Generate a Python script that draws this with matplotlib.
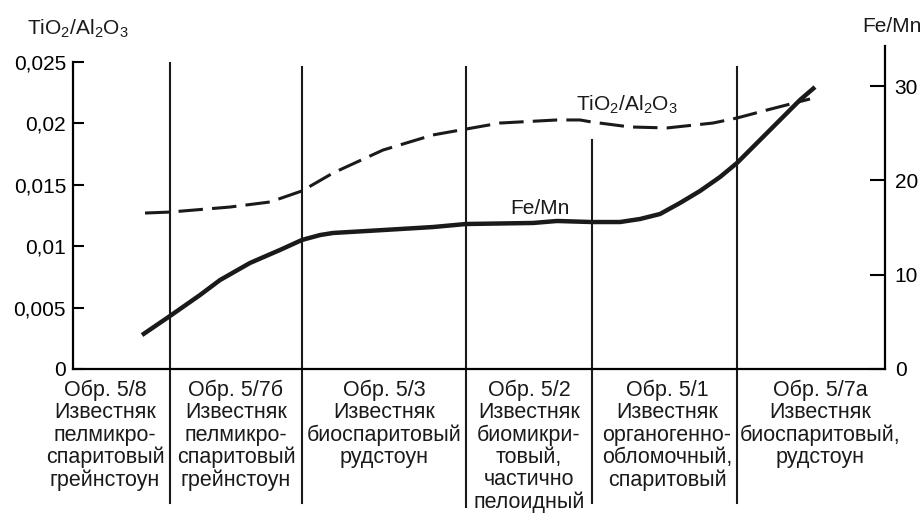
import numpy as np
import matplotlib
matplotlib.use('Agg')
import matplotlib.pyplot as plt
import matplotlib.transforms as mtransforms

plt.rcParams['font.family'] = ['Liberation Sans', 'DejaVu Sans']
plt.rcParams['mathtext.fontset'] = 'custom'
plt.rcParams['mathtext.rm'] = 'Liberation Sans'
plt.rcParams['mathtext.it'] = 'Liberation Sans'

# position along the section (arbitrary units), column boundaries
bounds = [97, 229, 393, 519, 664]
bound_tops = [0.947, 0.935, 0.935, 0.709, 0.935]     # axes fraction
bound_bottoms = [-0.415, -0.415, -0.427, -0.415, -0.415]

label_x = [32, 163, 311, 456, 594, 747]
labels = [
    'Обр. 5/8\nИзвестняк\nпелмикро-\nспаритовый\nгрейнстоун',
    'Обр. 5/7б\nИзвестняк\nпелмикро-\nспаритовый\nгрейнстоун',
    'Обр. 5/3\nИзвестняк\nбиоспаритовый\nрудстоун',
    'Обр. 5/2\nИзвестняк\nбиомикри-\nтовый,\nчастично\nпелоидный',
    'Обр. 5/1\nИзвестняк\nорганогенно-\nобломочный,\nспаритовый',
    'Обр. 5/7а\nИзвестняк\nбиоспаритовый,\nрудстоун',
]

# TiO2/Al2O3 curve (left axis)
ti_x = [72, 97, 157, 197, 229, 260, 310, 360, 393, 427, 484, 507, 519,
        557, 594, 640, 664, 694, 737]
ti_y = [0.01270, 0.01278, 0.01319, 0.01360, 0.01450, 0.01596, 0.01783,
        0.01906, 0.01954, 0.02003, 0.02028, 0.02028, 0.02011, 0.01971,
        0.01963, 0.02003, 0.02044, 0.02109, 0.02199]

# Fe/Mn curve (right axis)
fe_x = [69, 97, 127, 147, 177, 207, 229, 247, 260, 310, 360, 393, 460,
        484, 519, 547, 567, 587, 607, 627, 647, 664, 694, 727, 742]
fe_y = [3.60, 5.62, 7.84, 9.43, 11.24, 12.62, 13.68, 14.20, 14.42, 14.73,
        15.05, 15.37, 15.48, 15.69, 15.58, 15.58, 15.90, 16.43, 17.60,
        18.87, 20.35, 21.84, 25.02, 28.52, 29.89]

left_ticks = [0, 0.005, 0.01, 0.015, 0.02, 0.025]
left_ticklabels = ['0', '0,005', '0,01', '0,015', '0,02', '0,025']
right_ticks = [0, 10, 20, 30]

W, H = 924, 518
fig = plt.figure(figsize=(W / 100, H / 100), dpi=100)
ax = fig.add_axes([73 / W, (H - 369) / H, (885 - 73) / W, (369 - 46) / H])
ax2 = ax.twinx()

ax.set_xlim(0, 812)
ax.set_ylim(0, 0.025 * 323 / 307)
ax2.set_ylim(0, 30 * 323 / 283)

for a in (ax, ax2):
    a.spines['top'].set_visible(False)
    for s in a.spines.values():
        s.set_linewidth(1.6)
ax.spines['right'].set_visible(False)
ax2.spines['left'].set_visible(False)
ax2.spines['bottom'].set_visible(False)
ax.spines['left'].set_bounds(0, 0.025)

ax.set_xticks([])
ax.set_yticks(left_ticks)
ax.set_yticklabels(left_ticklabels)
ax.tick_params(axis='y', direction='in', length=8, width=1.5, pad=5, labelsize=15)
ax2.set_yticks(right_ticks)
ax2.tick_params(axis='y', direction='in', length=11, width=1.5, pad=7, labelsize=15)

ax.plot(ti_x, ti_y, color='#1a1a1a', lw=2.2, linestyle=(0, (8, 3)))
ax2.plot(fe_x, fe_y, color='#1a1a1a', lw=3.2, solid_capstyle='butt',
         solid_joinstyle='round')

trans = mtransforms.blended_transform_factory(ax.transData, ax.transAxes)
for bx, t, b in zip(bounds, bound_tops, bound_bottoms):
    ax.plot([bx, bx], [b, t], color='#1a1a1a', lw=1.5, transform=trans,
            clip_on=False)

for lx, txt in zip(label_x, labels):
    ax.text(lx, -0.033, txt, transform=trans, ha='center', va='top',
            fontsize=15.5, linespacing=1.08, color='#1a1a1a')

# curve labels
ax.text(554, 0.0215, r'TiO$_2$/Al$_2$O$_3$', fontsize=15, ha='center',
        va='center', color='#1a1a1a')
ax.text(467, 0.0131, 'Fe/Mn', fontsize=15, ha='center', va='center',
        color='#1a1a1a')

# axis titles
fig.text(27 / W, 1 - 29 / H, r'TiO$_2$/Al$_2$O$_3$', fontsize=15,
         ha='left', va='center', color='#1a1a1a')
fig.text(922 / W, 1 - 27 / H, 'Fe/Mn', fontsize=15, ha='right',
         va='center', color='#1a1a1a')

fig.savefig('out.png', dpi=100)
